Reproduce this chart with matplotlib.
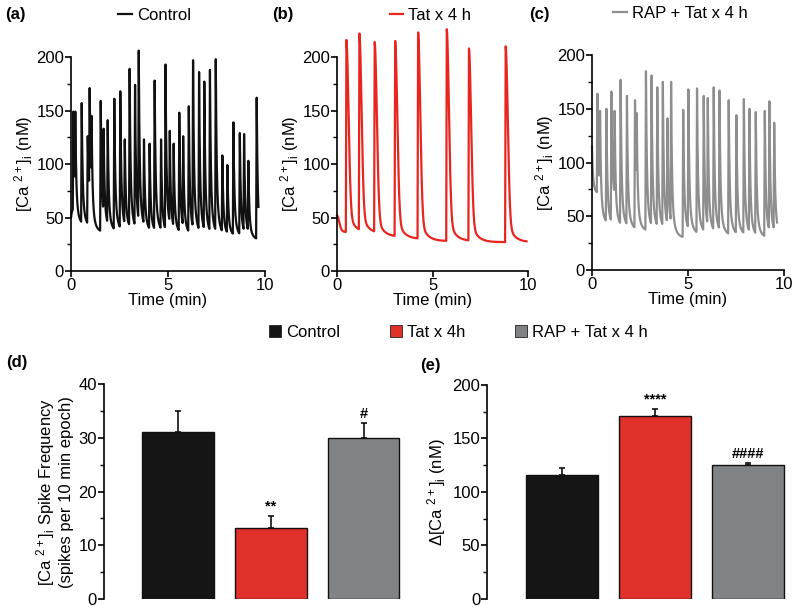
import numpy as np
import matplotlib
matplotlib.use('Agg')
import matplotlib.pyplot as plt
from matplotlib.patches import Patch
from matplotlib.ticker import MultipleLocator

plt.rcParams['font.family'] = ['Liberation Sans', 'DejaVu Sans']
plt.rcParams['mathtext.fontset'] = 'custom'
plt.rcParams['mathtext.rm'] = 'Liberation Sans'

#%% data
# spike times (min), peak and post-spike trough [Ca2+]i (nM)
ctrl_start, ctrl_end = 50, 9.66
ctrl_t = [0.12, 0.22, 0.55, 0.86, 0.96, 1.06, 1.53, 1.68, 1.89, 2.23, 2.54, 2.77,
          3.02, 3.30, 3.49, 3.76, 4.05, 4.31, 4.64, 4.87, 5.09, 5.29, 5.58, 5.78,
          6.07, 6.29, 6.60, 6.87, 7.16, 7.46, 7.80, 8.06, 8.37, 8.70, 8.92, 9.14, 9.57]
ctrl_peak = [149, 149, 157, 126, 171, 145, 159, 133, 141, 161, 168, 123,
             189, 174, 206, 123, 119, 178, 123, 193, 131, 119, 148, 126,
             154, 197, 186, 177, 188, 198, 108, 99, 139, 129, 128, 103, 162]
ctrl_trough = [60, 42, 40, 65, 62, 36, 40, 38, 36, 36, 36, 38,
               36, 36, 36, 36, 35, 35, 34, 35, 34, 34, 33, 33,
               33, 33, 32, 32, 32, 32, 32, 32, 31, 31, 31, 29, 27]

tat_start, tat_end = 52, 9.91
tat_t = [0.49, 1.17, 1.97, 3.04, 4.24, 5.74, 6.90, 8.82]
tat_peak = [216, 222, 214, 215, 223, 226, 208, 210]
tat_trough = [36, 35, 32, 30, 28, 28, 27, 27]

rap_start, rap_end = 115, 9.64
rap_t = [0.28, 0.42, 0.75, 1.01, 1.18, 1.49, 1.82, 2.24, 2.33, 2.81,
         3.10, 3.40, 3.69, 3.93, 4.12, 4.75, 5.02, 5.47, 5.82, 6.03,
         6.34, 6.64, 7.12, 7.52, 7.91, 8.20, 8.53, 9.00, 9.24, 9.49]
rap_peak = [164, 148, 150, 166, 148, 177, 162, 158, 146, 185,
            181, 170, 175, 141, 175, 149, 168, 169, 162, 160,
            170, 167, 158, 144, 159, 150, 147, 148, 157, 137]
rap_trough = [70, 42, 40, 60, 39, 38, 37, 55, 36, 36,
              36, 36, 36, 36, 30, 34, 33, 33, 33, 33,
              33, 32, 32, 32, 31, 30, 30, 31, 31, 31]

groups = ['Control', 'Tat x 4h', 'RAP + Tat x 4 h']
freq_mean = [31.1, 13.3, 30.0]
freq_sem = [3.9, 2.1, 2.7]
freq_marks = ['', '**', '#']
amp_mean = [116, 171, 125.5]
amp_sem = [6.4, 6.5, 1.5]
amp_marks = ['', '****', '####']

black, red, grey = '#151515', '#e0302a', '#808386'
line_cols = ['#111111', '#e8251f', '#8e8e8e']
FS = 12


def fast_kernel(x):
    return 0.75*np.exp(-x/0.045) + 0.25*np.exp(-x/0.16)


def slow_kernel(x):
    return 0.85*np.exp(-(x/0.16)**2) + 0.15*np.exp(-x/0.3)


def build_trace(v0, times, peaks, troughs, t_end, kernel, rise=0.03):
    """Piecewise trace: fast rise to each peak, decay towards its trough."""
    tt = [0.0] + list(times)
    pk = [v0] + list(peaks)
    tr = [troughs[0]] + list(troughs)
    rs = [max(a, b - rise) for a, b in zip(tt[:-1], tt[1:])]
    grid = np.unique(np.concatenate([np.arange(0, t_end, 0.002), tt, rs, [t_end]]))
    out = np.empty_like(grid)
    for i in range(len(tt)):
        last = i + 1 == len(tt)
        end = t_end + 1 if last else tt[i+1]
        m = (grid >= tt[i]) & (grid < end)
        g = grid[m]
        y = tr[i] + (pk[i] - tr[i])*kernel(g - tt[i])
        if not last:
            r0 = rs[i]
            y0 = tr[i] + (pk[i] - tr[i])*kernel(r0 - tt[i])
            k = g >= r0
            y[k] = y0 + (pk[i+1] - y0)*(g[k] - r0)/(end - r0)
        out[m] = y
    return grid, out


fig = plt.figure(figsize=(8, 6.14), dpi=100)

traces = [
    (ctrl_start, ctrl_t, ctrl_peak, ctrl_trough, ctrl_end, fast_kernel, 'Control'),
    (tat_start, tat_t, tat_peak, tat_trough, tat_end, slow_kernel, 'Tat x 4 h'),
    (rap_start, rap_t, rap_peak, rap_trough, rap_end, fast_kernel, 'RAP + Tat x 4 h'),
]
top_pos = [[0.0888, 0.5586, 0.2425, 0.3485],
           [0.4213, 0.5586, 0.2390, 0.3485],
           [0.7400, 0.5603, 0.2400, 0.3500]]
leg_x = [0.43, 0.49, 0.46]
tags = ['(a)', '(b)', '(c)']
tag_x = [0.006, 0.34, 0.662]

for i, (v0, ts, pks, trs, tend, kern, lab) in enumerate(traces):
    ax = fig.add_axes(top_pos[i])
    x, y = build_trace(v0, ts, pks, trs, tend, kern)
    ax.plot(x, y, color=line_cols[i], lw=1.6, clip_on=False, label=lab)
    ax.set_xlim(0, 10)
    ax.set_ylim(0, 200)
    ax.set_xticks([0, 5, 10])
    ax.set_yticks([0, 50, 100, 150, 200])
    ax.yaxis.set_minor_locator(MultipleLocator(25))
    for s in ['top', 'right']:
        ax.spines[s].set_visible(False)
    for s in ['left', 'bottom']:
        ax.spines[s].set_linewidth(1.2)
    ax.tick_params(which='major', length=4, width=1.2, labelsize=FS, pad=1)
    ax.tick_params(which='minor', length=3, width=1.0)
    ax.set_xlabel('Time (min)', fontsize=FS, labelpad=0)
    ax.set_ylabel(r'[Ca $\mathregular{^{2+}}$]$\mathregular{_i}$ (nM)', fontsize=FS, labelpad=1)
    ax.legend(loc='center', bbox_to_anchor=(leg_x[i], 1.195), frameon=False,
              handlelength=0.8, handletextpad=0.3, fontsize=FS)
    fig.text(tag_x[i], 0.976, tags[i], fontsize=12, fontweight='bold', va='center')

# shared legend for the bar panels
handles = [Patch(facecolor=c, edgecolor='#222222', lw=0.6) for c in [black, red, grey]]
fig.legend(handles, groups, loc='center', bbox_to_anchor=(0.573, 0.459), ncol=3,
           frameon=False, fontsize=FS, handlelength=0.7, handleheight=0.7,
           handletextpad=0.3, columnspacing=3.0)

bar_specs = [
    ([0.13, 0.0244, 0.394, 0.350], freq_mean, freq_sem, freq_marks, 40, 10, 5, 1.5,
     '[Ca $\\mathregular{^{2+}}$]$\\mathregular{_i}$ Spike Frequency\n(spikes per 10 min epoch)',
     '(d)', 0.008, 0.41),
    ([0.609, 0.0244, 0.396, 0.349], amp_mean, amp_sem, amp_marks, 200, 50, 25, 6,
     '$\\mathregular{\\Delta}$[Ca $\\mathregular{^{2+}}$]$\\mathregular{_i}$ (nM)',
     '(e)', 0.525, 0.405),
]
pos = np.arange(len(groups))
for rect, mean, sem, marks, ytop, major, minor, gap, ylab, tag, tx, ty in bar_specs:
    ax = fig.add_axes(rect)
    ax.bar(pos, mean, width=0.77, color=[black, red, grey], edgecolor='#111111', lw=1.0, zorder=2)
    ax.errorbar(pos, mean, yerr=[np.zeros(len(sem)), sem], fmt='none', ecolor='#111111',
                elinewidth=1.2, capsize=2.5, capthick=1.2, zorder=1)
    for p, m, s, t in zip(pos, mean, sem, marks):
        if t:
            ax.text(p, m + s + gap*0.3, t, ha='center', va='bottom', fontsize=10.5, fontweight='bold')
    ax.set_xlim(-0.8, 2.6)
    ax.set_ylim(0, ytop)
    ax.set_yticks(np.arange(0, ytop + 1, major))
    ax.yaxis.set_minor_locator(MultipleLocator(minor))
    ax.set_xticks([])
    for s in ['top', 'right', 'bottom']:
        ax.spines[s].set_visible(False)
    ax.spines['left'].set_linewidth(1.2)
    ax.tick_params(which='major', length=4, width=1.2, labelsize=FS, pad=1)
    ax.tick_params(which='minor', length=3, width=1.0)
    ax.set_ylabel(ylab, fontsize=FS, labelpad=3, linespacing=1.15)
    fig.text(tx, ty, tag, fontsize=12, fontweight='bold', va='center')

fig.savefig('out.png', dpi=100)
